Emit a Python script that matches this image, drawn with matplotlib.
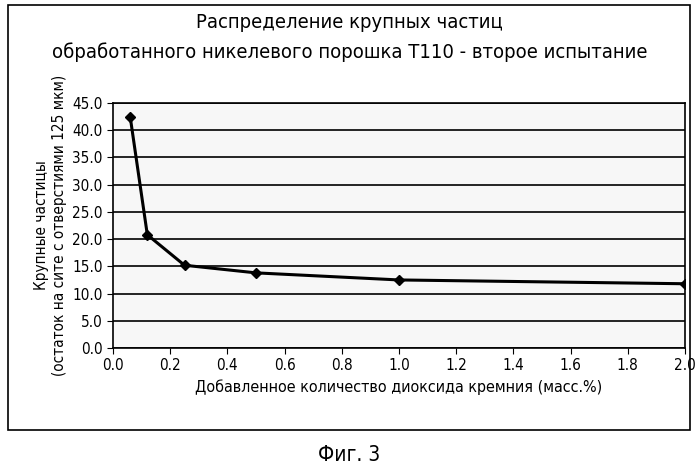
import matplotlib
matplotlib.use("Agg")
import matplotlib.pyplot as plt
from matplotlib.patches import Rectangle

silica = [0.06, 0.12, 0.25, 0.5, 1.0, 2.0]
coarse = [42.5, 20.8, 15.2, 13.8, 12.5, 11.8]
xticks = [0.0, 0.2, 0.4, 0.6, 0.8, 1.0, 1.2, 1.4, 1.6, 1.8, 2.0]
yticks = [0, 5, 10, 15, 20, 25, 30, 35, 40, 45]

plt.rcParams["font.family"] = "DejaVu Sans"
plt.rcParams["font.stretch"] = "condensed"
fig = plt.figure(figsize=(6.99, 4.69), dpi=100)
fig.patches.append(Rectangle((8/699, 1-430/469), 682/699, 425/469, transform=fig.transFigure,
                             fill=False, edgecolor="black", linewidth=1.2))
ax = fig.add_axes([113/699, 1-348/469, 572/699, 245/469])
ax.set_facecolor("#f7f7f7")
ax.plot(silica, coarse, color="black", linewidth=2.2, marker="D", markersize=5)
ax.set_xlim(0, 2.0)
ax.set_ylim(0, 45)
ax.set_xticks(xticks)
ax.set_xticklabels([f"{v:.1f}" for v in xticks], fontsize=11)
ax.set_yticks(yticks)
ax.set_yticklabels([f"{v:.1f}" for v in yticks], fontsize=11)
ax.yaxis.grid(True, color="black", linewidth=1.2)
for s in ax.spines.values():
    s.set_linewidth(1.2)
ax.tick_params(direction="out", length=4)
ax.set_xlabel("Добавленное количество диоксида кремния (масс.%)", fontsize=11.5)
ax.set_ylabel("Крупные частицы\n(остаток на сите с отверстиями 125 мкм)", fontsize=11)
fig.text(0.5, 1-22/469, "Распределение крупных частиц", ha="center", va="center", fontsize=14.5)
fig.text(0.5, 1-52/469, "обработанного никелевого порошка Т110 - второе испытание", ha="center", va="center", fontsize=14.5)
fig.text(0.5, 1-455/469, "Фиг. 3", ha="center", va="center", fontsize=15)
fig.savefig("out.png", dpi=100)
